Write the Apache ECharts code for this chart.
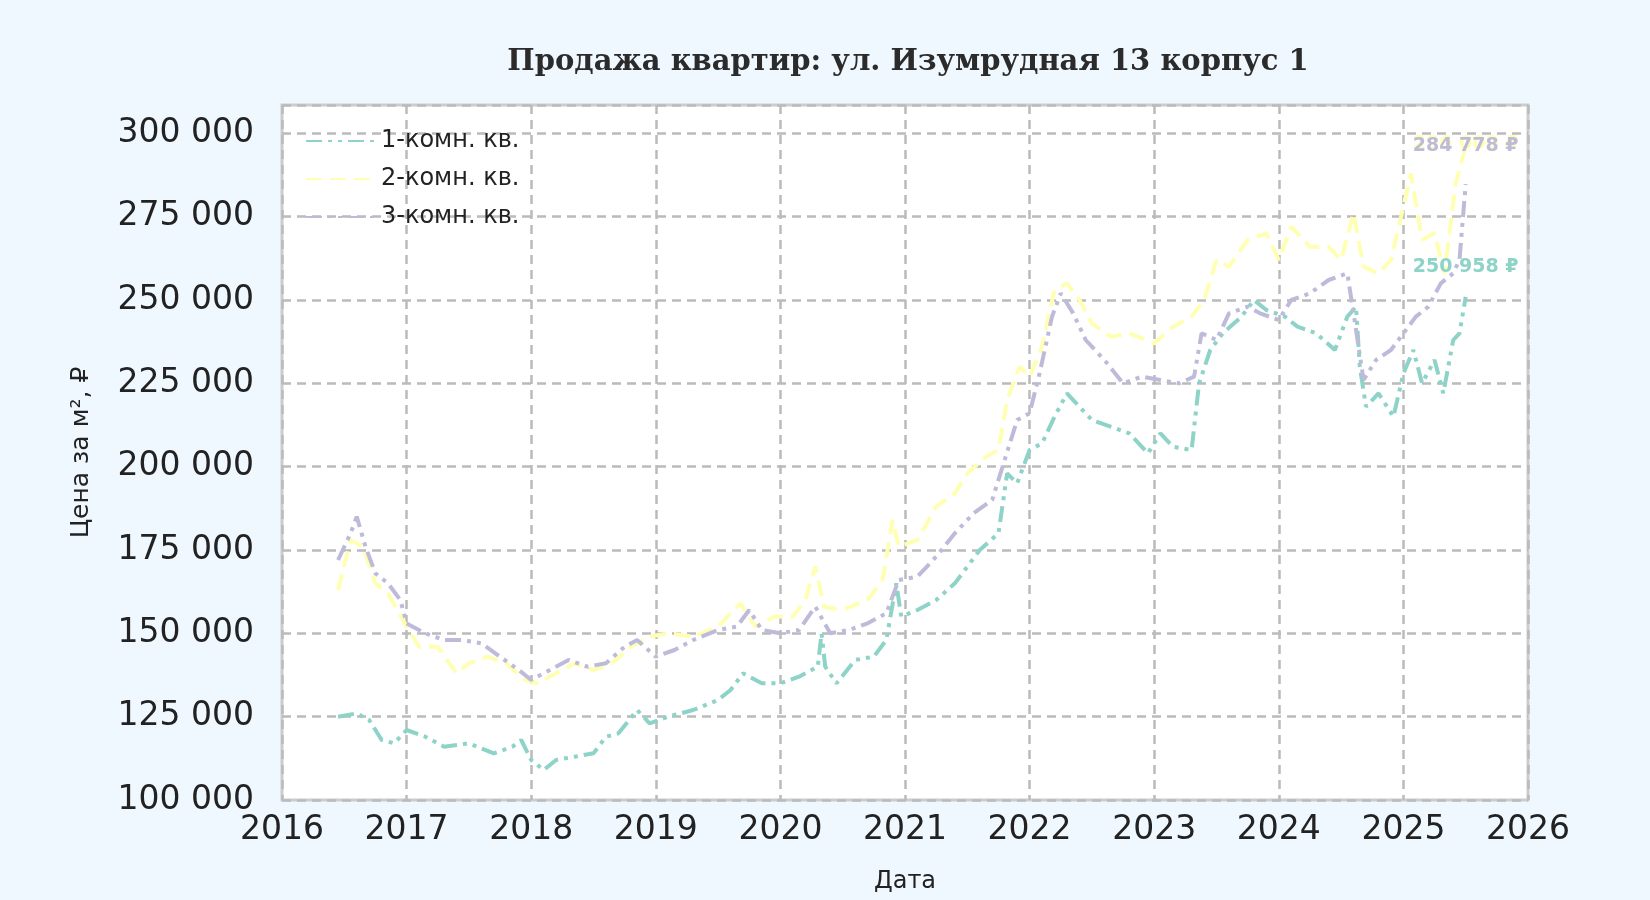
<!DOCTYPE html>
<html><head><meta charset="utf-8">
<script src="https://cdn.jsdelivr.net/npm/echarts@6/dist/echarts.min.js"></script>
<style>html,body{margin:0;background:#f0f8ff}#c{width:1650px;height:900px}</style>
</head><body><div id="c"></div>
<script>
const names=['1-комн. кв.','2-комн. кв.','3-комн. кв.'];
const s1=[[2016.45,125000],[2016.6,126000],[2016.7,124000],[2016.8,118000],[2016.9,117000],[2017.0,121000],[2017.15,119000],[2017.3,116000],[2017.5,117000],[2017.7,114000],[2017.85,116000],[2017.92,118000],[2018.0,112000],[2018.1,109000],[2018.2,112000],[2018.35,113000],[2018.5,114000],[2018.6,119000],[2018.7,120000],[2018.85,127000],[2018.95,123000],[2019.1,125000],[2019.3,127000],[2019.5,130000],[2019.6,133000],[2019.7,138000],[2019.85,135000],[2020.0,135000],[2020.15,137000],[2020.3,140000],[2020.33,150000],[2020.36,140000],[2020.45,135000],[2020.6,142000],[2020.75,143000],[2020.85,148000],[2020.93,165000],[2020.97,155000],[2021.1,157000],[2021.25,160000],[2021.4,165000],[2021.5,170000],[2021.6,175000],[2021.75,180000],[2021.82,198000],[2021.9,195000],[2022.0,205000],[2022.1,207000],[2022.2,215000],[2022.3,222000],[2022.4,218000],[2022.5,214000],[2022.65,212000],[2022.8,210000],[2022.95,204000],[2023.05,210000],[2023.15,206000],[2023.3,205000],[2023.36,225000],[2023.45,235000],[2023.55,240000],[2023.7,245000],[2023.8,250000],[2023.9,247000],[2024.05,245000],[2024.15,242000],[2024.3,240000],[2024.45,235000],[2024.55,245000],[2024.62,248000],[2024.65,230000],[2024.7,218000],[2024.8,222000],[2024.92,215000],[2025.0,228000],[2025.08,235000],[2025.15,225000],[2025.25,232000],[2025.32,222000],[2025.4,238000],[2025.45,240000],[2025.5,250958]];
const s2=[[2016.45,163000],[2016.55,178000],[2016.65,176000],[2016.75,165000],[2016.85,162000],[2017.0,152000],[2017.1,146000],[2017.25,146000],[2017.4,138000],[2017.5,141000],[2017.65,143000],[2017.8,141000],[2017.95,136000],[2018.05,135000],[2018.2,138000],[2018.35,141000],[2018.5,139000],[2018.65,141000],[2018.8,146000],[2018.95,149000],[2019.1,150000],[2019.3,149000],[2019.5,152000],[2019.6,156000],[2019.68,159000],[2019.8,152000],[2019.95,155000],[2020.1,155000],[2020.2,160000],[2020.28,170000],[2020.35,158000],[2020.5,157000],[2020.7,160000],[2020.82,166000],[2020.9,184000],[2020.95,176000],[2021.1,178000],[2021.25,188000],[2021.4,192000],[2021.5,198000],[2021.65,203000],[2021.75,205000],[2021.82,220000],[2021.92,230000],[2022.0,227000],[2022.1,236000],[2022.2,253000],[2022.3,255000],[2022.4,250000],[2022.5,243000],[2022.65,239000],[2022.8,240000],[2023.0,237000],[2023.15,242000],[2023.3,245000],[2023.4,250000],[2023.5,262000],[2023.6,260000],[2023.75,268000],[2023.9,270000],[2024.0,262000],[2024.1,272000],[2024.25,266000],[2024.4,266000],[2024.5,262000],[2024.6,276000],[2024.68,260000],[2024.8,258000],[2024.9,262000],[2025.0,278000],[2025.06,288000],[2025.15,268000],[2025.25,270000],[2025.33,258000],[2025.42,285000],[2025.47,292000],[2025.5,296000]];
const s3=[[2016.45,172000],[2016.55,180000],[2016.6,185000],[2016.67,176000],[2016.75,168000],[2016.85,165000],[2016.95,160000],[2017.0,153000],[2017.15,150000],[2017.3,148000],[2017.45,148000],[2017.6,147000],[2017.75,143000],[2017.9,139000],[2018.0,136000],[2018.15,139000],[2018.3,142000],[2018.45,140000],[2018.6,141000],[2018.75,146000],[2018.85,148000],[2019.0,143000],[2019.15,145000],[2019.3,148000],[2019.5,151000],[2019.65,152000],[2019.75,157000],[2019.85,151000],[2020.0,150000],[2020.15,151000],[2020.28,158000],[2020.4,150000],[2020.55,151000],[2020.7,153000],[2020.85,156000],[2020.95,166000],[2021.1,167000],[2021.25,173000],[2021.4,180000],[2021.55,186000],[2021.7,190000],[2021.8,202000],[2021.9,214000],[2022.0,216000],[2022.08,228000],[2022.18,245000],[2022.25,252000],[2022.35,246000],[2022.45,238000],[2022.6,232000],[2022.75,225000],[2022.9,227000],[2023.05,226000],[2023.2,225000],[2023.32,227000],[2023.38,240000],[2023.5,238000],[2023.6,246000],[2023.75,248000],[2023.85,246000],[2024.0,244000],[2024.1,250000],[2024.25,252000],[2024.4,256000],[2024.55,258000],[2024.6,246000],[2024.68,226000],[2024.78,232000],[2024.9,235000],[2025.0,240000],[2025.1,245000],[2025.2,248000],[2025.3,255000],[2025.4,258000],[2025.45,262000],[2025.5,284778]];
const colors=['#8dd3c7','#ffffb3','#bebada'];
const styles=[[16,6,4,6,4,6],[16,8],[16,6,4,6,4,6]];
const labelOffsets=[[0,-30],[0,-3],[0,-38]];
const datas=[s1,s2,s3];
const yTicks=[100000,125000,150000,175000,200000,225000,250000,275000,300000];
const fmt=v=>v.toLocaleString('ru-RU').replace(/\s/g,' ');
const chart=echarts.init(document.getElementById('c'));
chart.setOption({
 backgroundColor:'#f0f8ff',animation:false,
 title:{text:'Продажа квартир: ул. Изумрудная 13 корпус 1',left:903,top:43,textAlign:'center',textStyle:{fontFamily:'DejaVu Serif',fontWeight:'bold',fontSize:29,color:'#2b2b2b'}},
 grid:{left:282,right:122,top:105,bottom:100,backgroundColor:'#ffffff',show:true,borderColor:'#cccccc',borderWidth:3},
 legend:{left:300,top:124,orient:'vertical',itemGap:14,itemWidth:70,itemHeight:18,itemStyle:{opacity:0},textStyle:{fontFamily:'DejaVu Sans',fontSize:24,color:'#222'},data:names},
 xAxis:{type:'value',min:2016,max:2026,interval:1,name:'Дата',nameLocation:'middle',nameGap:70,nameTextStyle:{fontFamily:'DejaVu Sans',fontSize:24,color:'#222'},
  axisLine:{show:false},axisTick:{show:false},axisLabel:{fontFamily:'DejaVu Sans',fontSize:33,color:'#222',margin:14,formatter:v=>String(v)},
  splitLine:{show:true,lineStyle:{color:'#bbbbbb',width:2.5,type:[9,6]}}},
 yAxis:{type:'value',min:100000,max:308500,interval:25000,name:'Цена за м², ₽',nameLocation:'middle',nameGap:188,nameTextStyle:{fontFamily:'DejaVu Sans',fontSize:25,color:'#222'},
  axisLine:{show:false},axisTick:{show:false},axisLabel:{fontFamily:'DejaVu Sans',fontSize:33,color:'#222',margin:28,showMaxLabel:false,formatter:v=>yTicks.includes(v)?fmt(v):''},
  splitLine:{show:true,lineStyle:{color:'#bbbbbb',width:2.5,type:[9,6]}}},
 series:datas.map((d,i)=>({name:names[i],type:'line',data:d,showSymbol:false,symbol:'none',color:colors[i],
  lineStyle:{width:4,type:styles[i],color:colors[i]},
  markPoint:{symbol:'circle',symbolSize:0,data:[{coord:d[d.length-1],value:d[d.length-1][1]}],
   label:{show:true,position:'inside',offset:labelOffsets[i],formatter:p=>fmt(p.value)+' ₽',color:colors[i],fontWeight:'bold',fontFamily:'DejaVu Sans',fontSize:19}}}))
});
</script></body></html>
